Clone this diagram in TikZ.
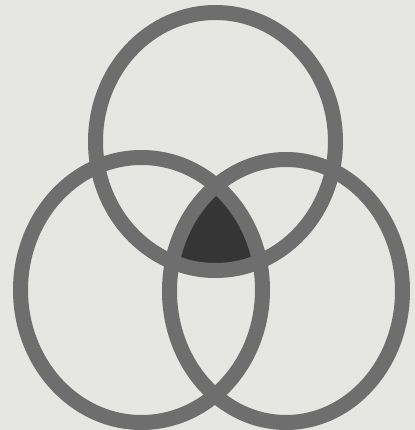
\documentclass[tikz,border=0pt]{standalone}
\usepackage{xcolor}
\usepackage{tikz}
\usetikzlibrary{calc}
\definecolor{paper}{HTML}{E6E6E3}
\definecolor{ringc}{HTML}{6E6E6E}
\definecolor{corec}{HTML}{353535}
\tikzset{ring/.style={draw=ringc,line width=0.375cm}}
\newcommand{\ringat}[3]{%
  \draw[ring] (#1) ellipse ({#2} and {#3});
}
\begin{document}
\begin{tikzpicture}[x=0.025cm,y=0.025cm]
  % paper
  \fill[paper] (0,0) rectangle (415,430);
  \useasboundingbox (0,0) rectangle (415,430);
  % ring centres
  \coordinate (topc) at (215.5,288.5);
  \coordinate (leftc) at (141.5,140);
  \coordinate (rightc) at (286,139);
  % common core
  \begin{scope}
    \clip (topc) ellipse (120 and 129);
    \clip (leftc) ellipse (121 and 132.5);
    \fill[corec] (rightc) ellipse (116.5 and 131.5);
  \end{scope}
  % rings
  \ringat{topc}{120}{129}
  \ringat{leftc}{121}{132.5}
  \ringat{rightc}{116.5}{131.5}
\end{tikzpicture}
\end{document}
